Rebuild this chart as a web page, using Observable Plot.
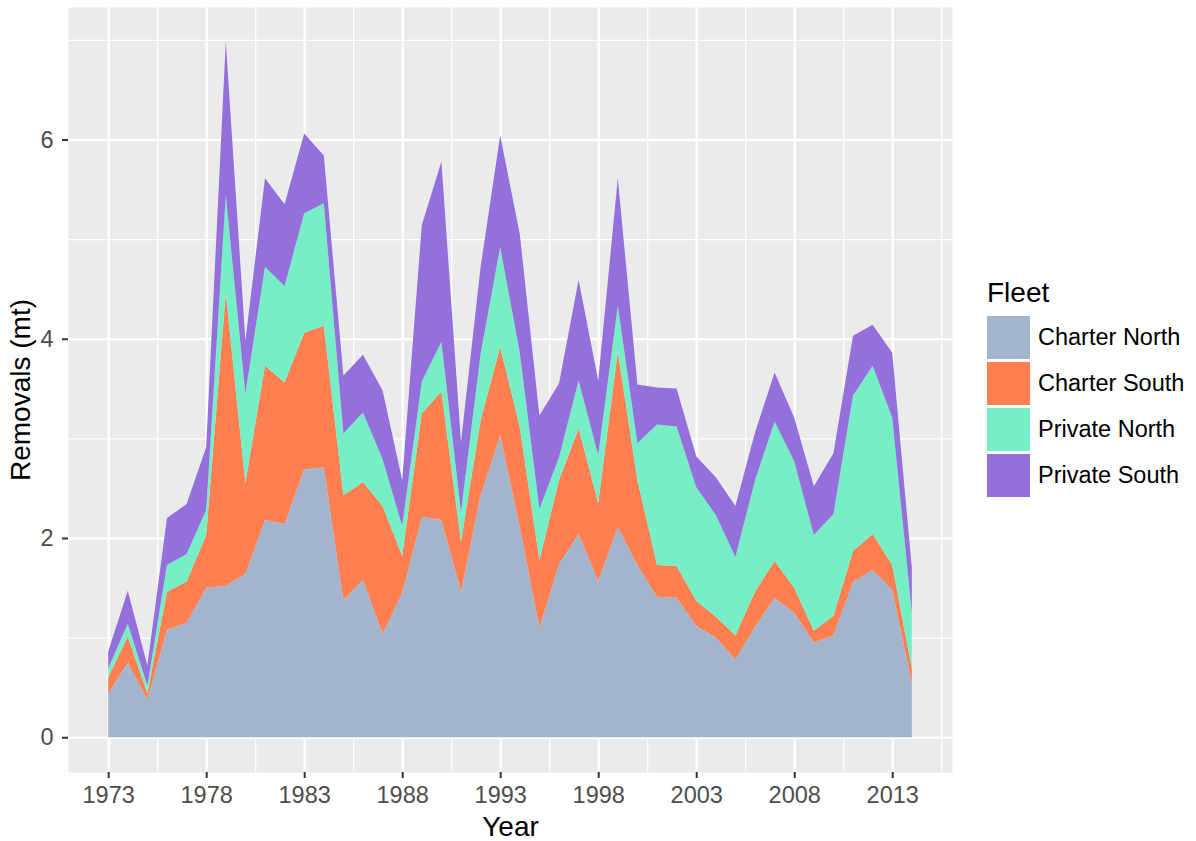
<!DOCTYPE html>
<html><head><meta charset="utf-8">
<script src="https://cdn.jsdelivr.net/npm/d3@7"></script>
<script src="https://cdn.jsdelivr.net/npm/@observablehq/plot@0.6"></script>
<style>
body{margin:0;background:#fff;font-family:"Liberation Sans",Arial,Helvetica,sans-serif;}
#wrap{position:relative;width:1196px;height:841px;overflow:hidden;}
#legend{position:absolute;left:987px;top:273px;color:#000;}
#legend .ttl{font-size:28px;line-height:32px;margin-top:4px;margin-bottom:5px;}
#legend .row{display:flex;align-items:center;height:46px;}
#legend .sw{width:43px;height:43px;margin-right:8px;}
#legend .lb{font-size:23.5px;}
g[aria-label="x-axis label"] text, g[aria-label="y-axis label"] text{font-size:28px;fill:#000;}
</style></head><body><div id="wrap"></div>
<script>
const years = [1973,1974,1975,1976,1977,1978,1979,1980,1981,1982,1983,1984,1985,1986,1987,1988,1989,1990,1991,1992,1993,1994,1995,1996,1997,1998,1999,2000,2001,2002,2003,2004,2005,2006,2007,2008,2009,2010,2011,2012,2013,2014];
const fleets = ["Charter North","Charter South","Private North","Private South"];
const fleetColors = ["#A2B5CD","#FF7F50","#76EEC6","#9370DB"];
const charterNorth = [0.44,0.75,0.38,1.08,1.15,1.50,1.52,1.64,2.18,2.14,2.69,2.71,1.38,1.58,1.04,1.45,2.21,2.18,1.46,2.43,3.03,2.11,1.10,1.74,2.04,1.57,2.11,1.73,1.41,1.40,1.12,1.00,0.78,1.11,1.40,1.25,0.95,1.02,1.56,1.68,1.48,0.55];
const charterSouth = [0.16,0.26,0.06,0.38,0.41,0.53,2.94,0.91,1.55,1.42,1.37,1.42,1.05,0.98,1.28,0.37,1.04,1.29,0.50,0.75,0.89,1.00,0.68,0.84,1.06,0.78,1.76,0.85,0.32,0.32,0.25,0.21,0.24,0.35,0.37,0.25,0.12,0.20,0.31,0.36,0.25,0.14];
const privateNorth = [0.09,0.13,0.08,0.27,0.28,0.25,0.98,0.90,0.99,0.97,1.20,1.23,0.62,0.70,0.47,0.30,0.32,0.50,0.30,0.67,1.00,0.75,0.51,0.23,0.48,0.48,0.46,0.37,1.41,1.40,1.14,1.02,0.79,1.12,1.40,1.27,0.96,1.02,1.56,1.69,1.48,0.56];
const privateSouth = [0.17,0.33,0.20,0.47,0.50,0.63,1.54,0.53,0.89,0.82,0.80,0.48,0.58,0.58,0.69,0.46,1.57,1.81,0.70,0.87,1.12,1.19,0.94,0.74,1.01,0.75,1.28,0.59,0.37,0.38,0.31,0.38,0.51,0.48,0.49,0.44,0.49,0.61,0.60,0.41,0.65,0.45];
const xTicks = [1973,1978,1983,1988,1993,1998,2003,2008,2013];
const xMinor = [1975.5,1980.5,1985.5,1990.5,1995.5,2000.5,2005.5,2010.5,2015.5];
const yTicks = [0,2,4,6];
const yMinor = [1,3,5,7];

const series = [charterNorth, charterSouth, privateNorth, privateSouth];
const data = [];
fleets.forEach((f, i) => years.forEach((yr, j) => data.push({year: yr, fleet: f, value: series[i][j]})));

const grid = "#FFFFFF";
const chart = Plot.plot({
  width: 1196, height: 841,
  marginLeft: 68, marginRight: 244, marginTop: 7, marginBottom: 69,
  style: {fontFamily: '"Liberation Sans", Arial, Helvetica, sans-serif', background: "white"},
  x: {type: "linear", domain: [1970.95, 2016.05]},
  y: {domain: [-0.349, 7.33]},
  color: {domain: fleets, range: fleetColors},
  marks: [
    Plot.frame({fill: "#EBEBEB", stroke: null}),
    Plot.gridX(xMinor, {stroke: grid, strokeOpacity: 1, strokeWidth: 1.2}),
    Plot.gridY(yMinor, {stroke: grid, strokeOpacity: 1, strokeWidth: 1.2}),
    Plot.gridX(xTicks, {stroke: grid, strokeOpacity: 1, strokeWidth: 2.4}),
    Plot.gridY(yTicks, {stroke: grid, strokeOpacity: 1, strokeWidth: 2.4}),
    Plot.areaY(data, {x: "year", y: "value", fill: "fleet", z: "fleet", order: fleets, curve: "linear"}),
    Plot.axisX(xTicks, {tickSize: 6, tickPadding: 8, fontSize: 23.5, color: "#4d4d4d", strokeWidth: 2, stroke: "#333333",
      tickFormat: d => String(d), label: "Year", labelAnchor: "center", labelArrow: "none", labelOffset: 63}),
    Plot.axisY(yTicks, {tickSize: 6, tickPadding: 9, fontSize: 23.5, color: "#4d4d4d", strokeWidth: 2, stroke: "#333333",
      tickFormat: d => String(d), label: "Removals (mt)", labelAnchor: "center", labelArrow: "none", labelOffset: 58})
  ]
});
const wrap = document.getElementById("wrap");
wrap.appendChild(chart);

const lg = document.createElement("div");
lg.id = "legend";
let html = '<div class="ttl">Fleet</div>';
fleets.forEach((f, i) => { html += `<div class="row"><div class="sw" style="background:${fleetColors[i]}"></div><div class="lb">${f}</div></div>`; });
lg.innerHTML = html;
wrap.appendChild(lg);
</script></body></html>
